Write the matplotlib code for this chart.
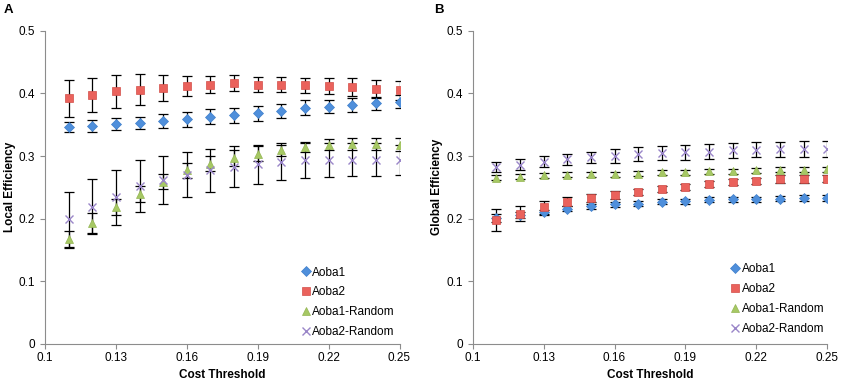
import matplotlib
matplotlib.use("Agg")
import matplotlib.pyplot as plt

plt.rcParams['font.family'] = ['Liberation Sans', 'DejaVu Sans']

cost = [0.11, 0.12, 0.13, 0.14, 0.15, 0.16, 0.17, 0.18, 0.19, 0.20, 0.21, 0.22, 0.23, 0.24, 0.25]
series_names = ["Aoba1", "Aoba2", "Aoba1-Random", "Aoba2-Random"]

# Panel A: Local efficiency
aoba1_local = [0.347, 0.348, 0.351, 0.353, 0.356, 0.359, 0.363, 0.365, 0.368, 0.372, 0.377, 0.379, 0.382, 0.384, 0.387]
aoba1_local_err = [0.008, 0.009, 0.009, 0.010, 0.011, 0.012, 0.012, 0.012, 0.012, 0.011, 0.012, 0.011, 0.011, 0.010, 0.010]
aoba2_local = [0.392, 0.398, 0.403, 0.406, 0.409, 0.412, 0.414, 0.417, 0.414, 0.414, 0.413, 0.412, 0.410, 0.407, 0.405]
aoba2_local_err = [0.029, 0.027, 0.027, 0.025, 0.021, 0.016, 0.013, 0.013, 0.012, 0.012, 0.012, 0.013, 0.014, 0.015, 0.015]
aoba1r_local = [0.167, 0.193, 0.219, 0.239, 0.259, 0.277, 0.288, 0.297, 0.304, 0.310, 0.315, 0.318, 0.319, 0.319, 0.318]
aoba1r_local_err = [0.014, 0.016, 0.013, 0.013, 0.012, 0.012, 0.012, 0.013, 0.012, 0.010, 0.008, 0.009, 0.010, 0.010, 0.010]
aoba2r_local = [0.199, 0.219, 0.234, 0.252, 0.262, 0.270, 0.277, 0.283, 0.287, 0.290, 0.293, 0.294, 0.294, 0.294, 0.294]
aoba2r_local_err = [0.044, 0.044, 0.044, 0.042, 0.038, 0.036, 0.034, 0.033, 0.031, 0.028, 0.028, 0.027, 0.026, 0.026, 0.024]

# Panel B: Global efficiency
aoba1_global = [0.201, 0.206, 0.210, 0.216, 0.220, 0.223, 0.224, 0.227, 0.228, 0.230, 0.231, 0.231, 0.232, 0.233, 0.233]
aoba1_global_err = [0.006, 0.005, 0.004, 0.004, 0.004, 0.004, 0.004, 0.004, 0.004, 0.004, 0.004, 0.004, 0.004, 0.004, 0.004]
aoba2_global = [0.198, 0.208, 0.218, 0.227, 0.233, 0.238, 0.243, 0.247, 0.251, 0.255, 0.258, 0.260, 0.263, 0.263, 0.264]
aoba2_global_err = [0.017, 0.012, 0.010, 0.007, 0.006, 0.006, 0.005, 0.005, 0.005, 0.005, 0.005, 0.005, 0.006, 0.006, 0.006]
aoba1r_global = [0.265, 0.267, 0.269, 0.270, 0.271, 0.271, 0.272, 0.274, 0.274, 0.276, 0.276, 0.277, 0.278, 0.278, 0.279]
aoba1r_global_err = [0.004, 0.004, 0.004, 0.004, 0.004, 0.004, 0.004, 0.004, 0.004, 0.004, 0.004, 0.004, 0.004, 0.004, 0.004]
aoba2r_global = [0.282, 0.286, 0.291, 0.295, 0.298, 0.300, 0.303, 0.305, 0.306, 0.307, 0.309, 0.310, 0.311, 0.311, 0.311]
aoba2r_global_err = [0.008, 0.009, 0.009, 0.009, 0.009, 0.011, 0.011, 0.011, 0.012, 0.012, 0.012, 0.012, 0.012, 0.013, 0.013]

x_ticks = [0.1, 0.13, 0.16, 0.19, 0.22, 0.25]
x_ticklabels = ["0.1", "0.13", "0.16", "0.19", "0.22", "0.25"]
y_ticks = [0, 0.1, 0.2, 0.3, 0.4, 0.5]
y_ticklabels = ["0", "0.1", "0.2", "0.3", "0.4", "0.5"]

styles = [
    dict(marker='D', ms=4.8, mfc='#4F8FDB', mec='#3F7FCB', mew=0.5),
    dict(marker='s', ms=6.4, mfc='#EA625C', mec='#D24E48', mew=0.5),
    dict(marker='^', ms=6.4, mfc='#A6C864', mec='#93B552', mew=0.5),
    dict(marker='x', ms=5.8, mfc='none', mec='#9A86C8', mew=1.0),
]

W, H = 843, 383
fig = plt.figure(figsize=(W / 100, H / 100), dpi=100)

panels = [
    dict(left=45, label="A", label_x=4, ylabel="Local Efficiency",
         vals=[aoba1_local, aoba2_local, aoba1r_local, aoba2r_local],
         errs=[aoba1_local_err, aoba2_local_err, aoba1r_local_err, aoba2r_local_err],
         leg=(0.726, 0.247)),
    dict(left=472.7, label="B", label_x=434, ylabel="Global Efficiency",
         vals=[aoba1_global, aoba2_global, aoba1r_global, aoba2r_global],
         errs=[aoba1_global_err, aoba2_global_err, aoba1r_global_err, aoba2r_global_err],
         leg=(0.730, 0.257)),
]

axis_col = '#8C8C8C'
for p in panels:
    ax = fig.add_axes([p['left'] / W, (H - 344) / H, 354.5 / W, 313.3 / H])
    handles = []
    for v, e, st, name in zip(p['vals'], p['errs'], styles, series_names):
        ax.errorbar(cost, v, yerr=e, fmt='none', ecolor='black', elinewidth=0.9,
                    capsize=3.4, capthick=0.9, zorder=2)
        h, = ax.plot(cost, v, ls='none', label=name, zorder=3, **st)
        handles.append(h)
    ax.set_xlim(0.1, 0.25)
    ax.set_ylim(0, 0.5)
    ax.set_xticks(x_ticks)
    ax.set_xticklabels(x_ticklabels)
    ax.set_yticks(y_ticks)
    ax.set_yticklabels(y_ticklabels)
    for s in ['top', 'right']:
        ax.spines[s].set_visible(False)
    for s in ['left', 'bottom']:
        ax.spines[s].set_color(axis_col)
        ax.spines[s].set_linewidth(0.8)
    ax.tick_params(axis='both', direction='out', length=3.5, width=0.8, color=axis_col,
                   labelsize=8.5, labelcolor='black')
    ax.tick_params(axis='y', pad=3.5)
    ax.tick_params(axis='x', pad=2.5)
    ax.set_xlabel("Cost Threshold", fontsize=8.5, fontweight='bold')
    ax.xaxis.set_label_coords(0.5, -0.080)
    ax.set_ylabel(p['ylabel'], fontsize=8.5, fontweight='bold')
    ax.yaxis.set_label_coords(-0.083, 0.5)
    ax.legend(handles=handles, loc='upper left', bbox_to_anchor=p['leg'], frameon=False,
              fontsize=8.5, handlelength=0.6, handletextpad=0.25, labelspacing=0.66,
              borderpad=0, borderaxespad=0, numpoints=1)
    fig.text(p['label_x'] / W, 1 - 10 / H, p['label'], fontsize=9.5, fontweight='bold',
             ha='left', va='center')

fig.savefig("out.png", dpi=100)
